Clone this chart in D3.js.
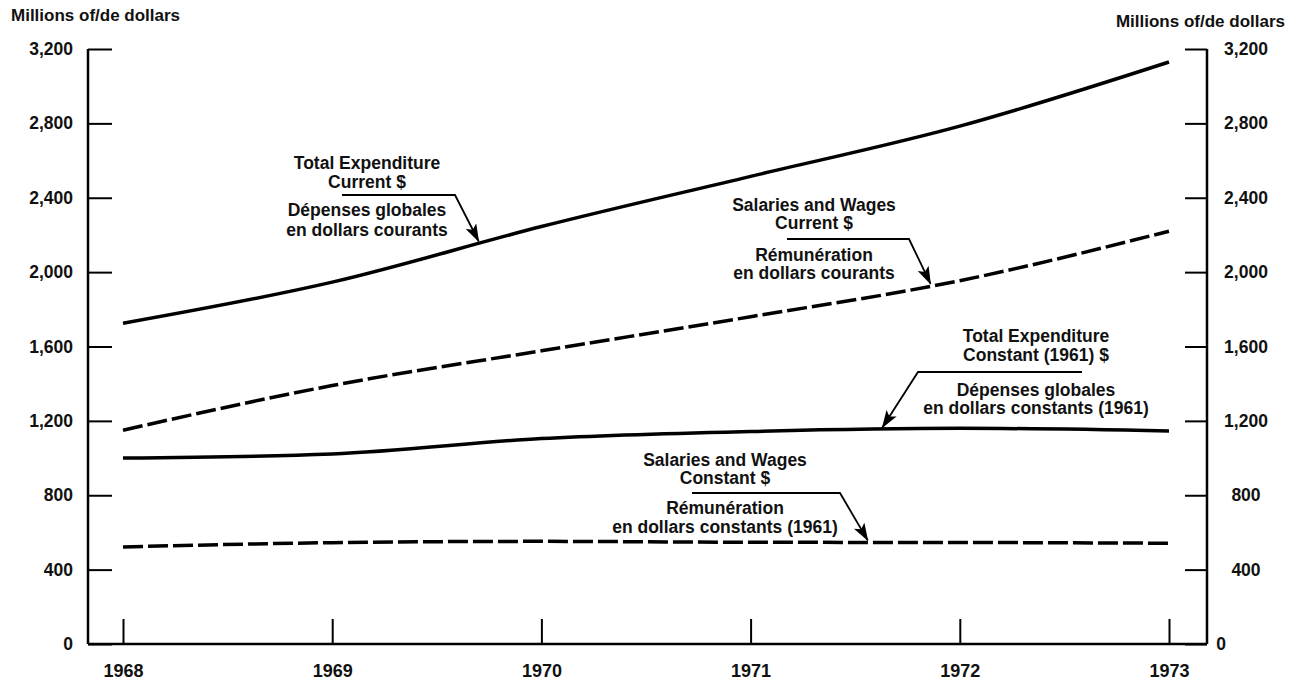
<!DOCTYPE html>
<html>
<head>
<meta charset="utf-8">
<script src="https://cdn.jsdelivr.net/npm/d3@7"></script>
<style>
    body { margin: 0; background: #fff; }
    svg text { font-family: "Liberation Sans", Arial, sans-serif; font-weight: bold; font-size: 17.5px; fill: #111; }
</style>
</head>
<body>
<svg id="chart" width="1296" height="680"></svg>
<script>
// values (millions of dollars)
const years = [1968, 1969, 1970, 1971, 1972, 1973];
const totalCurrent = [1725, 1946, 2245, 2515, 2785, 3130];
const salariesCurrent = [1150, 1390, 1577, 1760, 1954, 2220];
const totalConstant = [1000, 1022, 1105, 1143, 1160, 1146];
const salariesConstant = [522, 545, 552, 547, 546, 542];
const yTicks = [0, 400, 800, 1200, 1600, 2000, 2400, 2800, 3200];
const axisTitle = "Millions of/de dollars";

const LEFT = 88, RIGHT = 1207;

let svg = d3.select("#chart");
svg.append("rect").attr("width", 1296).attr("height", 680).attr("fill", "#fff");

let x = d3.scaleLinear().domain([1968, 1973]).range([123, 1169]);
let y = d3.scaleLinear().domain([0, 3200]).range([644, 49]);

// arrowhead for the callouts
svg.append("defs").append("marker")
    .attr("id", "arrow")
    .attr("markerUnits", "userSpaceOnUse")
    .attr("markerWidth", 18).attr("markerHeight", 12)
    .attr("refX", 17).attr("refY", 6)
    .attr("orient", "auto")
    .append("path")
        .attr("d", "M0,0 L18,6 L0,12 L4,6 Z")
        .attr("fill", "#000");

// left axis
svg.append("g")
    .attr("transform", "translate(" + LEFT + ",0)")
    .call(d3.axisLeft(y).tickValues(yTicks).tickFormat(d3.format(",")).tickSize(-24).tickPadding(15))
    .call(g => g.select(".domain").remove())
    .call(g => g.selectAll(".tick line").attr("stroke", "#000").attr("stroke-width", 2));

// right axis, labels centred under each other like the original
svg.append("g")
    .attr("transform", "translate(" + RIGHT + ",0)")
    .call(d3.axisRight(y).tickValues(yTicks).tickFormat(d3.format(",")).tickSize(-22))
    .call(g => g.select(".domain").remove())
    .call(g => g.selectAll(".tick line").attr("stroke", "#000").attr("stroke-width", 2))
    .call(g => g.selectAll(".tick text")
        .attr("text-anchor", "middle")
        .attr("x", d => d === 0 ? 14 : 39));

// bottom axis, ticks point up into the plot
svg.append("g")
    .attr("transform", "translate(0," + y(0) + ")")
    .call(d3.axisBottom(x).tickValues(years).tickFormat(d3.format("d")).tickSize(-25).tickPadding(20))
    .call(g => g.select(".domain").remove())
    .call(g => g.selectAll(".tick line").attr("stroke", "#000").attr("stroke-width", 2))
    .call(g => g.selectAll(".tick text").style("font-size", "18px"));

// frame lines
let frame = svg.append("g").attr("stroke", "#000").attr("stroke-width", 2.5);
frame.append("line").attr("x1", LEFT).attr("x2", RIGHT).attr("y1", y(0)).attr("y2", y(0));
frame.append("line").attr("x1", LEFT).attr("x2", LEFT).attr("y1", y(3200)).attr("y2", y(0));
frame.append("line").attr("x1", RIGHT).attr("x2", RIGHT).attr("y1", y(3200)).attr("y2", y(0));

// axis titles
svg.append("text").attr("x", 11).attr("y", 15).attr("dominant-baseline", "central")
    .style("font-size", "17px").text(axisTitle);
svg.append("text").attr("x", 1285).attr("y", 21).attr("dominant-baseline", "central")
    .attr("text-anchor", "end").style("font-size", "17px").text(axisTitle);

// series
let series = [
    {values: totalCurrent, dash: null},
    {values: salariesCurrent, dash: "20,5"},
    {values: totalConstant, dash: null},
    {values: salariesConstant, dash: "20,5"}
];

let line = d3.line()
    .x((d, i) => x(years[i]))
    .y(d => y(d))
    .curve(d3.curveMonotoneX);

svg.selectAll("path.series")
    .data(series)
    .enter()
    .append("path")
        .attr("class", "series")
        .attr("d", d => line(d.values))
        .attr("fill", "none")
        .attr("stroke", "#000")
        .attr("stroke-width", 3.5)
        .attr("stroke-dasharray", d => d.dash);

// value of a series at a fractional year
let valueAt = (values, yr) => {
    let i = Math.min(Math.floor(yr - years[0]), years.length - 2);
    let t = yr - years[i];
    return values[i] * (1 - t) + values[i + 1] * t;
};

// callouts: text block, rule under the English label, arrow to the line
let notes = [
    {values: totalCurrent, at: 1969.70, cx: 367,
        lines: [["Total Expenditure", 163], ["Current $", 182], ["Dépenses globales", 210], ["en dollars courants", 230]],
        far: [342, 195], elbow: [455, 195]},
    {values: salariesCurrent, at: 1971.86, cx: 814,
        lines: [["Salaries and Wages", 205], ["Current $", 223], ["Rémunération", 255], ["en dollars courants", 273]],
        far: [787, 239], elbow: [909, 239]},
    {values: totalConstant, at: 1971.63, cx: 1036,
        lines: [["Total Expenditure", 336], ["Constant (1961) $", 355], ["Dépenses globales", 390], ["en dollars constants (1961)", 408]],
        far: [1082, 372], elbow: [918, 372]},
    {values: salariesConstant, at: 1971.56, cx: 725,
        lines: [["Salaries and Wages", 460], ["Constant $", 478], ["Rémunération", 508], ["en dollars constants (1961)", 527]],
        far: [692, 493], elbow: [840, 493]}
];

notes.forEach(n => {
    let g = svg.append("g");
    n.lines.forEach(l => {
        g.append("text")
            .attr("x", n.cx).attr("y", l[1])
            .attr("text-anchor", "middle")
            .attr("dominant-baseline", "central")
            .text(l[0]);
    });
    let tip = [x(n.at), y(valueAt(n.values, n.at)) - 2];
    g.append("path")
        .attr("d", "M" + n.far + "L" + n.elbow + "L" + tip)
        .attr("fill", "none")
        .attr("stroke", "#000")
        .attr("stroke-width", 1.8)
        .attr("marker-end", "url(#arrow)");
});
</script>
</body>
</html>
